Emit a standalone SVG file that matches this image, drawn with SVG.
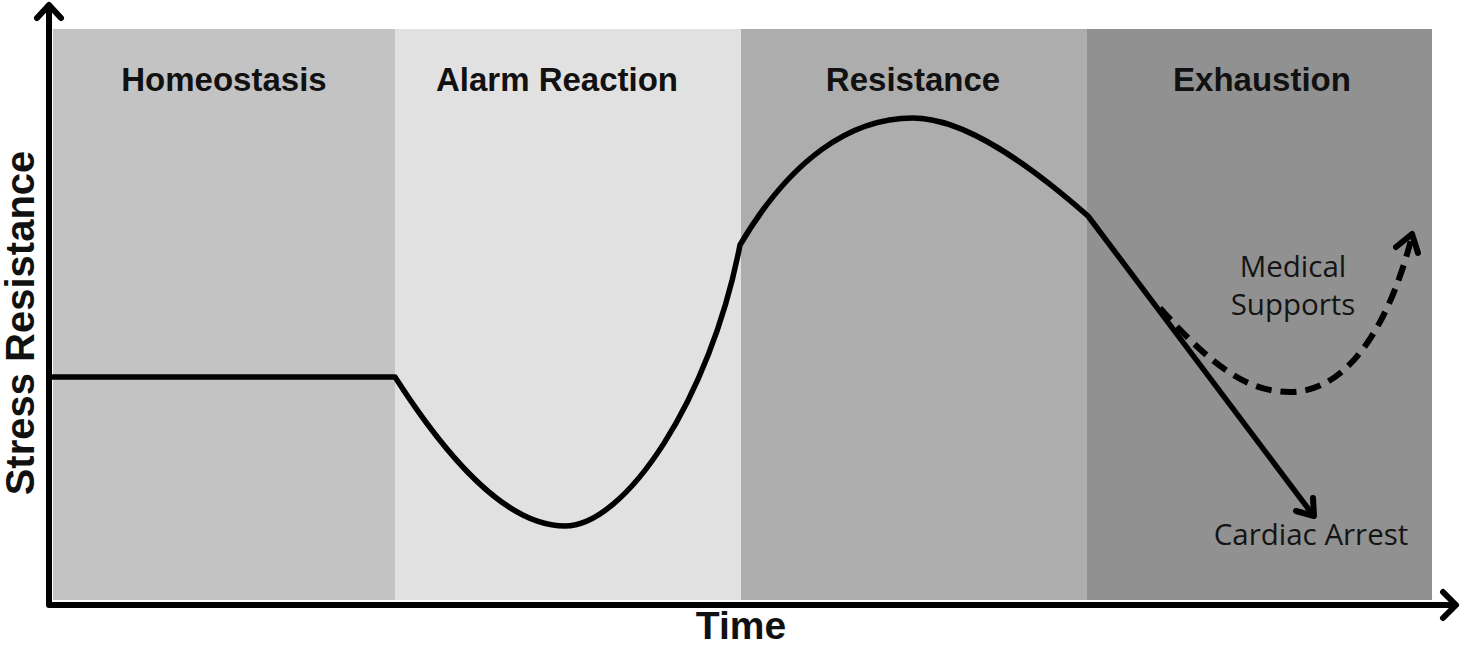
<svg xmlns="http://www.w3.org/2000/svg" width="1463" height="648" viewBox="0 0 1463 648">
<style>
.title{font-family:"Liberation Sans",Arial,sans-serif;font-weight:bold;font-size:33px;fill:#111;text-anchor:middle}
.axis-label{font-family:"Liberation Sans",Arial,sans-serif;font-weight:bold;font-size:40px;fill:#111;text-anchor:middle}
.note{font-family:"Open Sans",sans-serif;font-size:29.5px;fill:#141414;text-anchor:middle}
.curve{fill:none;stroke:#000;stroke-width:5.5;stroke-linejoin:round}
.dash{fill:none;stroke:#000;stroke-width:6;stroke-dasharray:16 9}
.axis{fill:none;stroke:#000;stroke-width:6;stroke-linecap:round;stroke-linejoin:round}
.head{fill:none;stroke:#000;stroke-width:6;stroke-linecap:round;stroke-linejoin:round}
</style>
<rect width="1463" height="648" fill="#ffffff"/>
<g id="homeostasis">
<rect x="53" y="29" width="342" height="571" fill="#c3c3c3"/>
<text class="title" x="224" y="91">Homeostasis</text>
</g>
<g id="alarm-reaction">
<rect x="395" y="29" width="346" height="571" fill="#e1e1e1"/>
<text class="title" x="557" y="91">Alarm Reaction</text>
</g>
<g id="resistance">
<rect x="741" y="29" width="346" height="571" fill="#adadad"/>
<text class="title" x="913" y="91">Resistance</text>
</g>
<g id="exhaustion">
<rect x="1087" y="29" width="345" height="571" fill="#919191"/>
<text class="title" x="1262" y="91">Exhaustion</text>
</g>
<g id="connectors">
<path class="curve" d="M49,377 L395,377 C445,455 505,526 565,526 C625,526 710,400 740,245 C790,160 850,118 913,118 C965,118 1030,165 1088,216 L1313,515"/>
<path class="head" d="M1296,511 L1314,516 L1313,498"/>
<path class="dash" d="M1160,308 C1215,370 1250,392 1290,392 C1350,392 1390,320 1411,240"/>
<path class="head" d="M1396,247 L1412,234 L1418,253"/>
</g>
<g id="axes">
<path class="axis" d="M49,6 L49,605 L1455,605"/>
<path class="head" d="M37,18 L49,5 L61,18"/>
<path class="head" d="M1443,592 L1456,605 L1443,618"/>
</g>
<g id="labels">
<text class="axis-label" x="741" y="639" style="font-size:39px">Time</text>
<text class="axis-label" transform="translate(34,323) rotate(-90)" x="0" y="0">Stress Resistance</text>
<text class="note" x="1293" y="277">Medical</text>
<text class="note" x="1293" y="315">Supports</text>
<text class="note" x="1311" y="545">Cardiac Arrest</text>
</g>
</svg>
